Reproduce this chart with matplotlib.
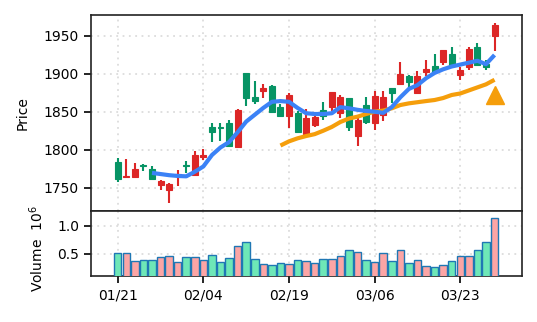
import numpy as np
import matplotlib
matplotlib.use("Agg")
import matplotlib.pyplot as plt

# Daily OHLC prices
opens = [1761, 1766, 1774, 1778.2, 1761.4, 1758.8, 1754.9, 1768.5, 1778.6, 1792.5,
         1793.5, 1822.9, 1828.5, 1805, 1852.2, 1867.6, 1864.2, 1881.4, 1849.4, 1844.7,
         1872.6, 1823, 1841.3, 1843.5, 1845, 1875.5, 1869, 1830, 1839.7, 1836,
         1870.7, 1869, 1874.2, 1899.6, 1888.7, 1897.4, 1905.8, 1902.6, 1931.2, 1911.4,
         1904.9, 1932, 1911.4, 1908.2, 1964]
highs = [1789, 1788, 1782.5, 1781.6, 1778.6, 1759.7, 1756, 1773.3, 1784.7, 1798.5,
         1800.5, 1835.5, 1834.5, 1838.5, 1853, 1901, 1890.6, 1886.4, 1884.8, 1860,
         1874, 1851, 1853.3, 1846.5, 1862.4, 1876, 1872, 1867.8, 1842.6, 1869,
         1877.6, 1877.2, 1881.2, 1915.8, 1898, 1903, 1918, 1925.8, 1931.6, 1935.5,
         1909.2, 1935, 1940.4, 1918, 1966.3]
lows = [1757.5, 1763.5, 1763, 1772.4, 1760.1, 1747, 1730.3, 1752.6, 1769, 1765,
        1786, 1810.5, 1811, 1803, 1803, 1858, 1860.3, 1867.5, 1848, 1843.5,
        1828.5, 1822, 1820, 1830, 1839.5, 1850.6, 1841.5, 1825, 1805.3, 1834,
        1826, 1838.2, 1862, 1885, 1880, 1874, 1897.4, 1900, 1911.4, 1910,
        1891.7, 1905, 1910, 1904.5, 1930.3]
closes = [1784, 1764, 1763.7, 1780.3, 1774.2, 1753.6, 1746.6, 1765, 1780.3, 1766.2,
          1790, 1830.3, 1830.5, 1835, 1804, 1900.5, 1869, 1877.2, 1884.3, 1856,
          1843.8, 1848, 1820.7, 1832.5, 1852.2, 1856.6, 1848.3, 1867.6, 1818.4, 1859.2,
          1834.7, 1845.7, 1880.8, 1886.9, 1897.4, 1874.2, 1902.6, 1910.5, 1915.8, 1925.5,
          1898.3, 1908.5, 1935.5, 1912.6, 1949.6]

# Traded volume, millions of shares
volume_m = [0.507, 0.507, 0.364, 0.382, 0.382, 0.441, 0.453, 0.346, 0.435, 0.435,
            0.382, 0.471, 0.346, 0.417, 0.632, 0.703, 0.405, 0.311, 0.293, 0.329,
            0.311, 0.382, 0.364, 0.329, 0.405, 0.405, 0.453, 0.566, 0.525, 0.382,
            0.346, 0.507, 0.364, 0.561, 0.329, 0.382, 0.275, 0.257, 0.293, 0.364,
            0.459, 0.459, 0.566, 0.703, 1.132]

# Short and long moving averages (undefined before enough history)
nan = np.nan
ma_short = [nan, nan, nan, nan, 1769.5, 1768, 1766.5, 1765.5, 1765, 1771,
            1778, 1793, 1803, 1810, 1823, 1837, 1846, 1855, 1863, 1864,
            1863, 1855, 1848, 1847, 1847, 1848, 1856, 1854.5, 1852.5, 1851,
            1850, 1848.5, 1856, 1869, 1880, 1885, 1894, 1901, 1905.8, 1909.5,
            1912, 1914.5, 1917, 1912.5, 1924.6]
ma_long = [nan] * 19 + [1805.5, 1811, 1815, 1818, 1820.5, 1825, 1830, 1836.5, 1841, 1843.5,
                        1847, 1850, 1851.5, 1854.5, 1858.8, 1861, 1862.5, 1864, 1865.4, 1868,
                        1872, 1874, 1878, 1882, 1886, 1892]

# Buy signal on the last session
signal_index = 44
signal_price = 1871.7

tick_labels = ["01/21", "02/04", "02/19", "03/06", "03/23"]
tick_every = 10

UP, DOWN = "#079465", "#dc2626"
VUP, VDOWN = "#6ee7b7", "#fca5a5"
BLUE, ORANGE = "#3b82f6", "#f59e0b"

plt.rcParams["font.family"] = "DejaVu Sans"
plt.rcParams["font.size"] = 10

o = np.array(opens); h = np.array(highs); l = np.array(lows); c = np.array(closes)
x = np.arange(len(o))
up = c >= o
cols = np.where(up, UP, DOWN)
vcols = np.where(up, VUP, VDOWN)

fig = plt.figure(figsize=(5.37, 3.22), dpi=100)
ax = fig.add_axes([0.169, 0.3438, 0.8025, 0.6105])
axv = fig.add_axes([0.169, 0.1419, 0.8025, 0.2019], sharex=ax)

grid_kw = dict(color="#dcdcdc", linestyle=(0, (1, 2.5)), linewidth=1.3)
for a in (ax, axv):
    a.grid(True, **grid_kw)
    a.set_axisbelow(True)
    for s in a.spines.values():
        s.set_linewidth(1.2)
        s.set_color("#222222")

# Candles
ax.vlines(x, l, h, colors=cols, linewidth=1.5, zorder=2)
body_lo = np.minimum(o, c)
body_h = np.maximum(np.abs(c - o), 0.6)
ax.bar(x, body_h, bottom=body_lo, width=0.7, color=cols, edgecolor=cols,
       linewidth=0.8, zorder=3)

# Moving averages and signal marker
ax.plot(x, ma_long, color=ORANGE, linewidth=3.0, zorder=4, solid_capstyle="butt")
ax.plot(x, ma_short, color=BLUE, linewidth=3.0, zorder=5, solid_capstyle="butt")
ax.plot([signal_index], [signal_price], marker="^", markersize=13, color=ORANGE,
        markeredgecolor=ORANGE, linestyle="none", zorder=6)

ax.set_ylim(1719, 1977.6)
ax.set_yticks([1750, 1800, 1850, 1900, 1950])
ax.set_ylabel("Price", labelpad=10)
ax.tick_params(axis="x", which="both", bottom=False, labelbottom=False)
ax.tick_params(axis="y", length=5, width=1.2)

# Volume
axv.bar(x, volume_m, width=0.88, color=vcols, edgecolor="#1f77b4", linewidth=1.0, zorder=3)
axv.set_ylim(0.096, 1.257)
axv.set_yticks([0.5, 1.0])
axv.set_ylabel("Volume  $10^{6}$", labelpad=10)
axv.yaxis.set_label_coords(-0.105, 0.42)
ticks = np.arange(0, len(x), tick_every)[:len(tick_labels)]
axv.set_xticks(ticks)
axv.set_xticklabels(tick_labels)
axv.tick_params(length=5, width=1.2)
axv.set_xlim(-3.15, 47.17)

fig.savefig("out.png", dpi=100)
